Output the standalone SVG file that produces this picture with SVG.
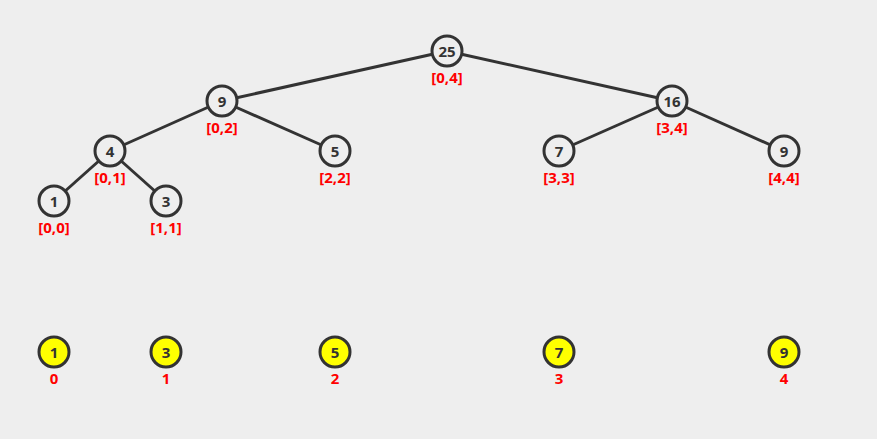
<svg xmlns="http://www.w3.org/2000/svg" width="877" height="439" viewBox="0 0 877 439">
<style>
.bg{fill:#eeeeee}
.e{stroke:#333;stroke-width:3;fill:none}
.n circle{fill:#eeeeee;stroke:#333;stroke-width:3}
.a circle{fill:#ffff00;stroke:#333;stroke-width:3}
.v{font-family:"Noto Sans","DejaVu Sans",sans-serif;font-size:15px;font-weight:bold;fill:#333;text-anchor:middle;dominant-baseline:central}
.l{font-family:"Noto Sans","DejaVu Sans",sans-serif;font-size:15px;font-weight:bold;fill:#ff0000;text-anchor:middle;dominant-baseline:central}
</style>
<rect class="bg" x="0" y="0" width="877" height="439"/>
<g id="connectors">
<line class="e" x1="447" y1="51" x2="222" y2="101"/>
<line class="e" x1="447" y1="51" x2="672" y2="101"/>
<line class="e" x1="222" y1="101" x2="110" y2="151"/>
<line class="e" x1="222" y1="101" x2="335" y2="151"/>
<line class="e" x1="672" y1="101" x2="559" y2="151"/>
<line class="e" x1="672" y1="101" x2="784" y2="151"/>
<line class="e" x1="110" y1="151" x2="54" y2="201"/>
<line class="e" x1="110" y1="151" x2="166" y2="201"/>
</g>
<g id="n04" class="n"><circle cx="447" cy="51" r="15"/><text class="v" x="447" y="51">25</text><text class="l" x="447" y="77">[0,4]</text></g>
<g id="n02" class="n"><circle cx="222" cy="101" r="15"/><text class="v" x="222" y="101">9</text><text class="l" x="222" y="127">[0,2]</text></g>
<g id="n34" class="n"><circle cx="672" cy="101" r="15"/><text class="v" x="672" y="101">16</text><text class="l" x="672" y="127">[3,4]</text></g>
<g id="n01" class="n"><circle cx="110" cy="151" r="15"/><text class="v" x="110" y="151">4</text><text class="l" x="110" y="177">[0,1]</text></g>
<g id="n22" class="n"><circle cx="335" cy="151" r="15"/><text class="v" x="335" y="151">5</text><text class="l" x="335" y="177">[2,2]</text></g>
<g id="n33" class="n"><circle cx="559" cy="151" r="15"/><text class="v" x="559" y="151">7</text><text class="l" x="559" y="177">[3,3]</text></g>
<g id="n44" class="n"><circle cx="784" cy="151" r="15"/><text class="v" x="784" y="151">9</text><text class="l" x="784" y="177">[4,4]</text></g>
<g id="n00" class="n"><circle cx="54" cy="201" r="15"/><text class="v" x="54" y="201">1</text><text class="l" x="54" y="227">[0,0]</text></g>
<g id="n11" class="n"><circle cx="166" cy="201" r="15"/><text class="v" x="166" y="201">3</text><text class="l" x="166" y="227">[1,1]</text></g>
<g id="a0" class="a"><circle cx="54" cy="352" r="15"/><text class="v" x="54" y="352">1</text><text class="l" x="54" y="378">0</text></g>
<g id="a1" class="a"><circle cx="166" cy="352" r="15"/><text class="v" x="166" y="352">3</text><text class="l" x="166" y="378">1</text></g>
<g id="a2" class="a"><circle cx="335" cy="352" r="15"/><text class="v" x="335" y="352">5</text><text class="l" x="335" y="378">2</text></g>
<g id="a3" class="a"><circle cx="559" cy="352" r="15"/><text class="v" x="559" y="352">7</text><text class="l" x="559" y="378">3</text></g>
<g id="a4" class="a"><circle cx="784" cy="352" r="15"/><text class="v" x="784" y="352">9</text><text class="l" x="784" y="378">4</text></g>
</svg>
